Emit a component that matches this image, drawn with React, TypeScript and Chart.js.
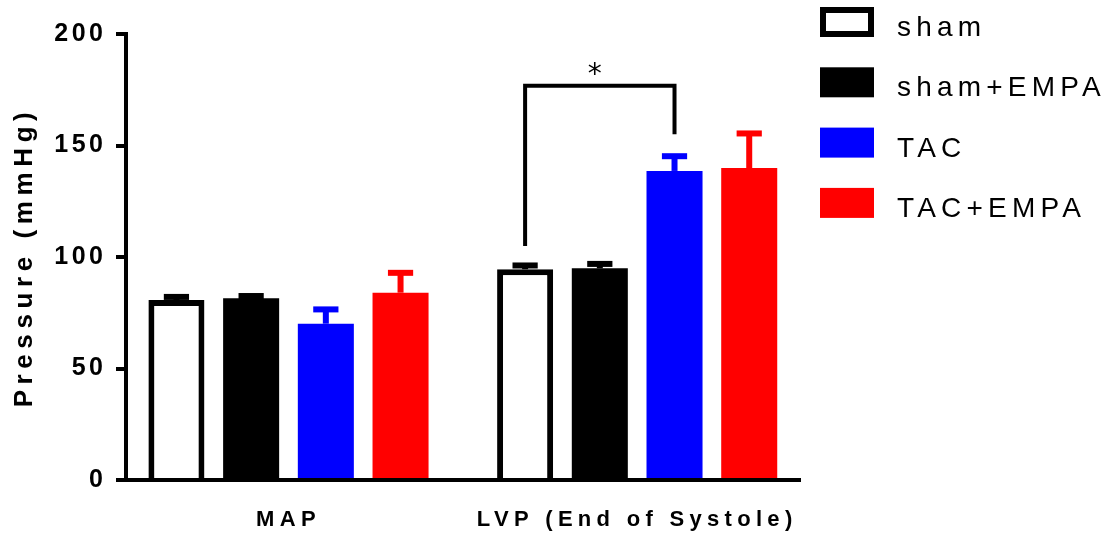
import React, { useEffect, useRef } from "react";
import { Chart, registerables } from "chart.js";

Chart.register(...registerables);

// ---------- data ----------
const categories = ["MAP", "LVP (End of Systole)"];
const seriesNames = ["sham", "sham+EMPA", "TAC", "TAC+EMPA"];

const shamMean = [80.7, 94.5];
const shamSem = [1.4, 1.7];
const shamEmpaMean = [81.5, 94.9];
const shamEmpaSem = [1.0, 2.0];
const tacMean = [70.1, 138.6];
const tacSem = [6.4, 6.6];
const tacEmpaMean = [84.0, 139.9];
const tacEmpaSem = [8.9, 15.5];

const yTicks = [0, 50, 100, 150, 200];
const yTitle = "Pressure (mmHg)";

// significance bracket: sham vs TAC in LVP
const sigCategory = 1;
const sigSeries = [0, 2];
const sigLegEnds = [104.9, 155.0];
const sigTop = 176.8;
const sigText = "*";

// ---------- styles ----------
const FONT = "'Liberation Sans', Arial, Helvetica, sans-serif";
const fills = ["#ffffff", "#000000", "#0000ff", "#ff0000"];
const edges = ["#000000", "#000000", "#0000ff", "#ff0000"];
const edgeWidths = [6, 0, 0, 0];
const means = [shamMean, shamEmpaMean, tacMean, tacEmpaMean];
const sems = [shamSem, shamEmpaSem, tacSem, tacEmpaSem];

function withSpacing(scale: any, method: string, spacing: string) {
  if (scale["__patched_" + method]) return;
  const orig = scale[method];
  scale[method] = function (...args: any[]) {
    const ctx = this.ctx;
    const prev = ctx.letterSpacing;
    ctx.letterSpacing = spacing;
    const r = orig.apply(this, args);
    ctx.letterSpacing = prev;
    return r;
  };
  scale["__patched_" + method] = true;
}

const overlayPlugin = {
  id: "overlay",
  afterLayout(chart: any) {
    withSpacing(chart.scales.y, "drawLabels", "3.5px");
    withSpacing(chart.scales.y, "drawTitle", "5.6px");
    withSpacing(chart.scales.x, "drawLabels", "5.3px");
  },
  afterDatasetsDraw(chart: any) {
    const ctx = chart.ctx;
    const y = chart.scales.y;
    ctx.save();
    // error bars (upper only)
    chart.data.datasets.forEach((ds: any, di: number) => {
      const meta = chart.getDatasetMeta(di);
      ctx.fillStyle = edges[di];
      meta.data.forEach((bar: any, i: number) => {
        const m = means[di][i];
        const s = sems[di][i];
        const yTop = y.getPixelForValue(m + s);
        const yBar = y.getPixelForValue(m);
        const capW = bar.width * 0.45;
        ctx.fillRect(bar.x - 3, yTop, 6, yBar - yTop);
        ctx.fillRect(bar.x - capW / 2, yTop - 3, capW, 6);
      });
    });
    // significance bracket
    const b0 = chart.getDatasetMeta(sigSeries[0]).data[sigCategory];
    const b1 = chart.getDatasetMeta(sigSeries[1]).data[sigCategory];
    const yT = y.getPixelForValue(sigTop);
    ctx.strokeStyle = "#000";
    ctx.lineWidth = 4;
    ctx.lineJoin = "miter";
    ctx.lineCap = "butt";
    ctx.beginPath();
    ctx.moveTo(b0.x, y.getPixelForValue(sigLegEnds[0]));
    ctx.lineTo(b0.x, yT);
    ctx.lineTo(b1.x, yT);
    ctx.lineTo(b1.x, y.getPixelForValue(sigLegEnds[1]));
    ctx.stroke();
    // star
    ctx.letterSpacing = "0px";
    ctx.font = "28px 'DejaVu Sans', sans-serif";
    ctx.fillStyle = "#000";
    const mt = ctx.measureText(sigText);
    const cx = (b0.x + b1.x) / 2 - 5;
    const cy = yT - 17;
    ctx.textAlign = "left";
    ctx.textBaseline = "alphabetic";
    const w = mt.actualBoundingBoxRight + mt.actualBoundingBoxLeft;
    const h = mt.actualBoundingBoxAscent + mt.actualBoundingBoxDescent;
    ctx.fillText(
      sigText,
      cx - w / 2 + mt.actualBoundingBoxLeft,
      cy + h / 2 - mt.actualBoundingBoxDescent
    );
    ctx.restore();
  },
  afterDraw(chart: any) {
    const ctx = chart.ctx;
    ctx.save();
    ctx.letterSpacing = "5.2px";
    ctx.font = "28px " + FONT;
    ctx.textAlign = "left";
    ctx.textBaseline = "alphabetic";
    const x0 = 820;
    const boxW = 54;
    const boxH = 30;
    chart.data.datasets.forEach((ds: any, i: number) => {
      const top = 7 + i * 60.3;
      ctx.fillStyle = ds.backgroundColor;
      ctx.fillRect(x0, top, boxW, boxH);
      const bw = ds.borderWidth || 0;
      if (bw > 0) {
        ctx.strokeStyle = ds.borderColor;
        ctx.lineWidth = bw;
        ctx.strokeRect(x0 + bw / 2, top + bw / 2, boxW - bw, boxH - bw);
      }
      ctx.fillStyle = "#000";
      ctx.fillText(ds.label, 897, top + boxH - 1);
    });
    ctx.restore();
  },
};

export default function App() {
  const ref = useRef<HTMLCanvasElement | null>(null);

  useEffect(() => {
    document.body.style.margin = "0";
    const canvas = ref.current;
    if (!canvas) return;
    Chart.defaults.font.family = FONT;
    const chart = new Chart(canvas, {
      type: "bar",
      data: {
        datasets: seriesNames.map((name, di) => ({
          label: name,
          data: means[di].map((v, i) => ({ x: i, y: v })),
          backgroundColor: fills[di],
          borderColor: edges[di],
          borderWidth: edgeWidths[di],
          borderSkipped: "start",
          categoryPercentage: 0.857,
          barPercentage: 0.75,
        })),
      },
      options: {
        animation: false,
        responsive: false,
        layout: { padding: { top: 34, right: 312, bottom: 0, left: 0 } },
        plugins: {
          legend: { display: false },
          tooltip: { enabled: false },
        },
        scales: {
          x: {
            type: "linear",
            min: -0.466,
            max: 1.467,
            offset: false,
            z: 1,
            afterBuildTicks: (s: any) => {
              s.ticks = categories.map((_, i) => ({ value: i }));
            },
            afterFit: (s: any) => {
              s.height = 58;
            },
            grid: { display: false, drawTicks: false },
            border: { display: true, color: "#000", width: 4 },
            ticks: {
              callback: (_v: any, i: number) => categories[i],
              maxRotation: 0,
              minRotation: 0,
              autoSkip: false,
              padding: 27,
              color: "#000",
              font: { family: FONT, size: 22, weight: "bold" },
            },
          },
          y: {
            min: 0,
            max: 200,
            afterBuildTicks: (s: any) => {
              s.ticks = yTicks.map((v) => ({ value: v }));
            },
            afterFit: (s: any) => {
              s.width = 126;
            },
            grid: {
              drawOnChartArea: false,
              drawTicks: true,
              tickLength: 10,
              lineWidth: 4,
              color: "#000",
            },
            border: { display: true, color: "#000", width: 4 },
            ticks: {
              padding: 9.5,
              color: "#000",
              font: { family: FONT, size: 25, weight: "bold" },
            },
            title: {
              display: true,
              text: yTitle,
              color: "#000",
              font: { family: FONT, size: 26, weight: "bold" },
              padding: { top: 9, bottom: 0 },
            },
          },
        },
      } as any,
      plugins: [overlayPlugin],
    });
    return () => chart.destroy();
  }, []);

  return (
    <div style={{ position: "absolute", left: 0, top: 0, width: 1112, height: 538 }}>
      <canvas ref={ref} width={1112} height={538} style={{ display: "block" }} />
    </div>
  );
}
